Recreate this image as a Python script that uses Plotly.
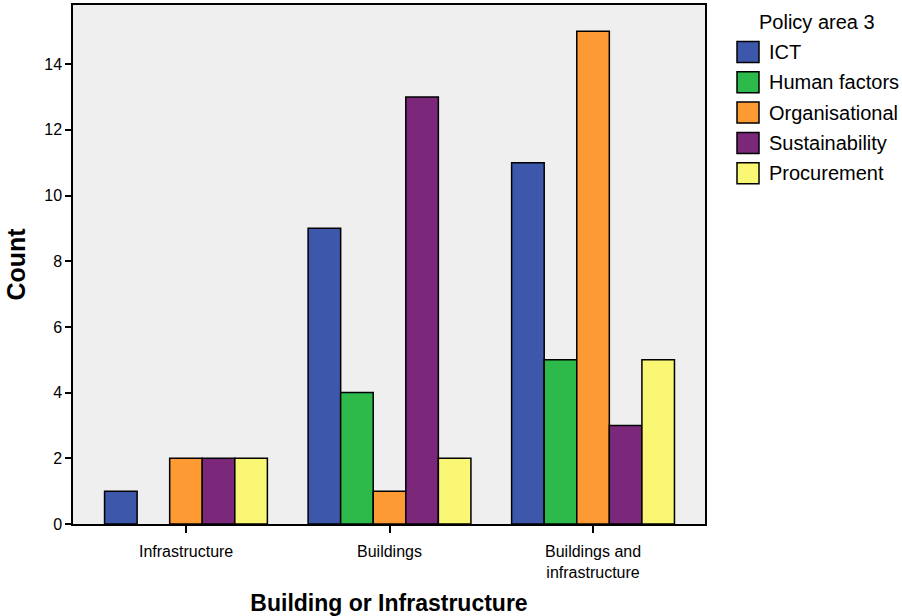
import plotly.graph_objects as go

categories = ["Infrastructure", "Buildings", "Buildings and infrastructure"]
category_labels = ["Infrastructure", "Buildings", "Buildings and<br>infrastructure"]
series_names = ["ICT", "Human factors", "Organisational", "Sustainability", "Procurement"]
ict = [1, 9, 11]
human_factors = [None, 4, 5]
organisational = [2, 1, 15]
sustainability = [2, 13, 3]
procurement = [2, 2, 5]
y_ticks = [0, 2, 4, 6, 8, 10, 12, 14]
colors = ["#3d58ab", "#2eb94b", "#fd9a34", "#7b287a", "#f9f773"]

values = [ict, human_factors, organisational, sustainability, procurement]

fig = go.Figure()
for name, vals, col in zip(series_names, values, colors):
    fig.add_trace(go.Bar(
        x=categories, y=vals, name=name,
        marker=dict(color=col, line=dict(color="black", width=1.5)),
        showlegend=False,
    ))

# plot-area pixel geometry helpers for the manual legend
L, R, T, B = 73, 705, 5, 524
def px(x):
    return (x - L) / (R - L)
def py(y):
    return (B - y) / (B - T)

shapes = []
annotations = []
annotations.append(dict(text="Policy area 3", x=px(817), y=py(22), xref="paper", yref="paper",
                        showarrow=False, xanchor="center", yanchor="middle",
                        font=dict(size=20, color="black")))
for i, (name, col) in enumerate(zip(series_names, colors)):
    cy = 52 + i * 30.3
    shapes.append(dict(type="rect", xref="paper", yref="paper",
                       x0=px(737), x1=px(759), y0=py(cy - 10.5), y1=py(cy + 10.5),
                       fillcolor=col, line=dict(color="black", width=1.5)))
    annotations.append(dict(text=name, x=px(767), y=py(cy), xref="paper", yref="paper",
                            showarrow=False, xanchor="left", yanchor="middle",
                            font=dict(size=20, color="black")))

# category labels
for cat, lab in zip(categories, category_labels):
    annotations.append(dict(text=lab, x=cat, xref="x", y=py(541), yref="paper",
                            showarrow=False, xanchor="center", yanchor="top",
                            font=dict(size=16, color="black")))

fig.update_layout(
    width=902, height=616,
    margin=dict(l=L, r=902 - R, t=T, b=616 - B),
    plot_bgcolor="#efefef", paper_bgcolor="white",
    barmode="group", bargap=0.2, bargroupgap=0,
    font=dict(family="Liberation Sans, Arial, sans-serif", color="black", size=16),
    shapes=shapes, annotations=annotations,
    xaxis=dict(
        range=[-0.555, 2.55], showline=True, linecolor="black", linewidth=1.5, mirror=True,
        ticks="outside", ticklen=7, tickcolor="black", tickwidth=1.5,
        showticklabels=False, automargin=False,
        title=dict(text="<b>Building or Infrastructure</b>", font=dict(size=23), standoff=65),
    ),
    yaxis=dict(
        range=[0, 15.8], tickvals=y_ticks, showline=True, linecolor="black", linewidth=1.5,
        mirror=True, ticks="outside", ticklen=6, tickcolor="black", tickwidth=1.5,
        showgrid=False, zeroline=False, tickfont=dict(size=16), automargin=False,
        title=dict(text="<b>Count</b>", font=dict(size=25), standoff=12),
    ),
)
fig.write_html("out.html", config={"displayModeBar": False},
               post_script="document.body.style.margin='0';")
